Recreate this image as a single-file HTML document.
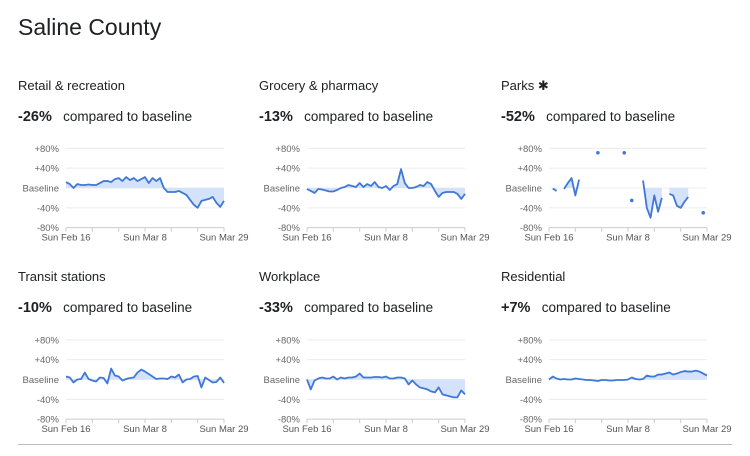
<!DOCTYPE html>
<html><head><meta charset="utf-8"><style>
body{margin:0;width:750px;height:456px;background:#fff;font-family:"Liberation Sans",sans-serif;position:relative;overflow:hidden;color:#202124}
.t{position:absolute;white-space:nowrap}
</style></head><body>
<div class="t" style="left:18px;top:14px;font-size:23px;">Saline County</div>
<div id="labels"></div>
<svg id="svg" width="750" height="456" style="position:absolute;left:0;top:0"></svg>
<div style="position:absolute;left:18px;top:444px;width:714px;height:1px;background:#bbb"></div>
<script>
const titles=["Retail & recreation","Grocery & pharmacy","Parks","Transit stations","Workplace","Residential"];
const headline=["-26%","-13%","-52%","-10%","-33%","+7%"];
const xTickLabels=["Sun Feb 16","Sun Mar 8","Sun Mar 29"];
const yTickLabels=["+80%","+40%","Baseline","-40%","-80%"];
const yTickValues=[80,40,0,-40,-80];
const retail=[12,8,0,8,6,6,7,6,6,10,14,14,12,18,20,14,22,16,20,14,18,22,10,20,14,20,0,-8,-8,-8,-6,-10,-14,-24,-34,-40,-26,-24,-22,-18,-30,-38,-26];
const grocery=[-2,-6,-10,-2,-3,-5,-7,-7,-4,0,2,6,4,2,10,2,8,4,12,2,0,4,-4,4,8,38,10,0,0,2,6,4,12,8,-6,-18,-10,-8,-8,-8,-12,-22,-12];
const parks=[null,-1,-6,null,-2,10,20,-15,17,null,null,null,null,71,null,null,null,null,null,null,71,null,-25,null,null,15,-40,-60,-15,-48,-20,null,-12,-15,-36,-40,-28,-18,null,null,null,-50,null];
const transit=[6,4,-6,0,1,14,1,-2,-4,4,3,-8,22,8,6,-2,1,3,4,14,20,16,11,6,1,2,2,1,6,4,10,-6,0,1,6,7,-16,4,-1,-6,-5,4,-7];
const workplace=[0,-20,-2,2,4,2,2,6,0,4,2,4,4,6,12,4,4,4,5,5,4,6,2,2,4,4,2,-10,-2,-10,-16,-18,-20,-24,-26,-16,-30,-32,-34,-36,-36,-22,-30];
const residential=[0,6,2,0,1,0,0,2,1,0,-1,-1,-2,-3,-1,-1,-2,-2,-1,-1,-1,0,4,1,0,1,8,6,6,10,10,12,14,10,12,15,17,16,16,18,16,12,8];
const series=[retail,grocery,parks,transit,workplace,residential];
const names=["retail","grocery","parks","transit","workplace","residential"];
const NS="http://www.w3.org/2000/svg";
const svg=document.getElementById('svg');
const lab=document.getElementById('labels');
function mk(tag,attrs,parent){const e=document.createElementNS(NS,tag);for(const k in attrs)e.setAttribute(k,attrs[k]);(parent||svg).appendChild(e);return e;}
for(let i=0;i<6;i++){
  const col=i%3,row=Math.floor(i/3);
  const tx=[18,259,501][col];
  const ty=row*191;
  const pl=[66,307,549][col],pw=158;
  const base=188+row*191.5;
  const xs=d=>pl+d*pw/42;
  const ys=v=>base-v*0.496;
  const h=document.createElement('div');h.className='t';
  
  
  h.style.cssText=`left:${tx}px;top:${ty+78}px;font-size:13px;`;
  h.textContent=titles[i]+(i==2?' ✱':'');lab.appendChild(h);
  const v=document.createElement('div');v.className='t';
  
  
  v.style.cssText=`left:${tx}px;top:${ty+109}px;font-size:13.5px;`;
  v.innerHTML=`<b style="font-size:14.5px">${headline[i]}</b>&nbsp;&nbsp; compared to baseline`;lab.appendChild(v);
  const g=mk('g',{});
  
  
  yTickValues.forEach((tv,k)=>{
    const l=mk('line',{x1:pl,x2:pl+pw,y1:ys(tv),y2:ys(tv),stroke:k==4?'#ccc':'#ececec','stroke-width':1},g);
    
    
    const t=mk('text',{x:pl-7,y:ys(tv)+3.5,'text-anchor':'end','font-size':'9.5',fill:'#666','font-family':'Liberation Sans, sans-serif'},g);
    
    
    t.textContent=yTickLabels[k];
  });
  for(let d=0;d<=42;d+=7){const l=mk('line',{x1:xs(d),x2:xs(d),y1:ys(-80),y2:ys(-80)+4,stroke:'#ccc'},g);
    
    }
  [0,21,42].forEach((d,k)=>{const t=mk('text',{x:xs(d),y:ys(-80)+13,'text-anchor':'middle','font-size':'9.5',fill:'#555','font-family':'Liberation Sans, sans-serif'},g);
    
    
    t.textContent=xTickLabels[k];});
  const s=series[i];let segs=[],cur=[];
  s.forEach((val,d)=>{if(val===null){if(cur.length)segs.push(cur);cur=[];}else cur.push([d,val]);});
  if(cur.length)segs.push(cur);
  segs.forEach(sg=>{
    if(sg.length==1){const c=mk('circle',{cx:xs(sg[0][0]),cy:ys(sg[0][1]),r:1.8,fill:'#3f78d6'},g);
      
      return;}
    let p='M'+xs(sg[0][0])+','+ys(0);
    sg.forEach(q=>p+=' L'+xs(q[0])+','+ys(q[1]));
    p+=' L'+xs(sg[sg.length-1][0])+','+ys(0)+'Z';
    const a=mk('path',{d:p,fill:'#d4e2fb'},g);
    
    
    const ln=mk('polyline',{points:sg.map(q=>xs(q[0])+','+ys(q[1])).join(' '),fill:'none',stroke:'#3f78d6','stroke-width':1.8,'stroke-linejoin':'round'},g);
    
    
  });
}
</script>
</body></html>
